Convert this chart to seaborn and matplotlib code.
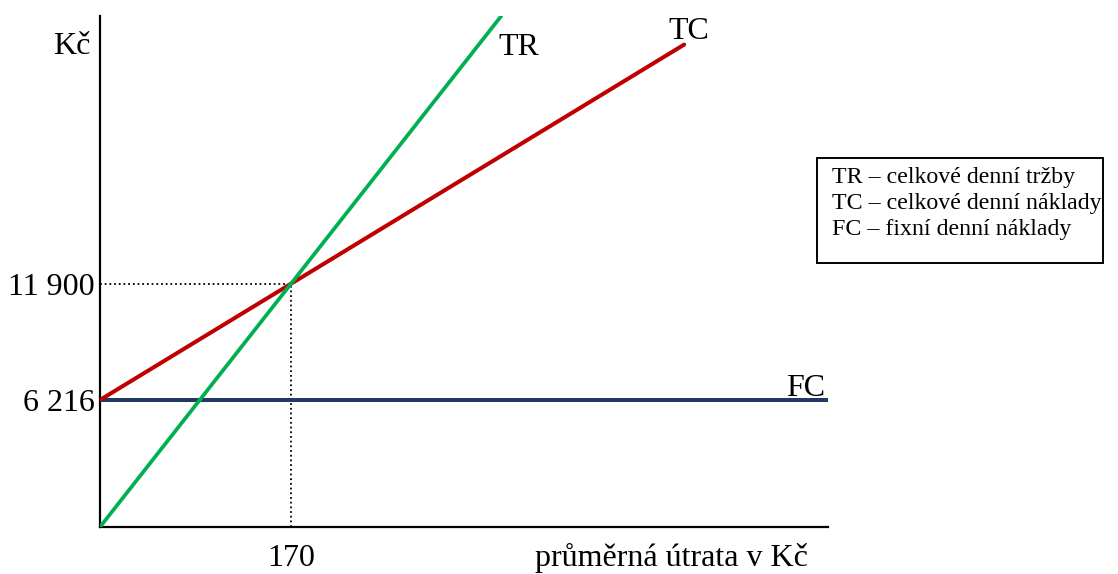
import matplotlib
matplotlib.use("Agg")
import matplotlib.pyplot as plt
import matplotlib.patches as mpatches
import pandas as pd
import seaborn as sns

# Break-even model: daily revenue and costs versus average spend per guest
fixed_cost = 6216          # FC – fixní denní náklady
breakeven_x = 170          # průměrná útrata v bodě zvratu
breakeven_y = 11900        # tržby = náklady v bodě zvratu

tr_x = [0, 170, 357]
tr_y = [0, 11900, 24990]
tc_x = [0, 170, 520]
tc_y = [6216, 11900, 23602]
fc_x = [0, 648]
fc_y = [6216, 6216]

y_ticks = [6216, 11900]
y_tick_labels = ["6 216", "11 900"]
x_ticks = [170]
x_tick_labels = ["170"]

legend_lines = [
    "TR – celkové denní tržby",
    "TC – celkové denní náklady",
    "FC – fixní denní náklady",
]

sns.set_style("white")
plt.rcParams["font.family"] = ["Liberation Serif", "DejaVu Serif"]
plt.rcParams["text.color"] = "black"
plt.rcParams["xtick.color"] = "black"
plt.rcParams["ytick.color"] = "black"

W, H = 1118, 574
fig = plt.figure(figsize=(W / 100, H / 100), dpi=100)
ax = fig.add_axes([100 / W, 1 - 527 / H, 728 / W, 511 / H])

GREEN = "#00B050"
RED = "#C00000"
BLUE = "#1F3B63"

df_tr = pd.DataFrame({"x": tr_x, "y": tr_y})
df_tc = pd.DataFrame({"x": tc_x, "y": tc_y})
df_fc = pd.DataFrame({"x": fc_x, "y": fc_y})

# dotted guides to the break-even point
ax.plot([0, breakeven_x], [breakeven_y, breakeven_y], color="black",
        lw=1.3, linestyle=(0, (1, 1.6)), zorder=1)
ax.plot([breakeven_x, breakeven_x], [0, breakeven_y], color="black",
        lw=1.3, linestyle=(0, (1, 1.6)), zorder=1)

sns.lineplot(data=df_fc, x="x", y="y", ax=ax, color=BLUE, lw=2.9,
             estimator=None, sort=False, zorder=2)
sns.lineplot(data=df_tc, x="x", y="y", ax=ax, color=RED, lw=2.9,
             estimator=None, sort=False, zorder=3)
sns.lineplot(data=df_tr, x="x", y="y", ax=ax, color=GREEN, lw=2.7,
             estimator=None, sort=False, zorder=4)

ax.set_xlim(0, 648)
ax.set_ylim(0, 25000)
ax.set_xlabel("")
ax.set_ylabel("")

for side in ("top", "right"):
    ax.spines[side].set_visible(False)
for side in ("left", "bottom"):
    ax.spines[side].set_color("black")
    ax.spines[side].set_linewidth(1.6)

FS = 23
ax.set_yticks(y_ticks)
ax.set_yticklabels(y_tick_labels, fontsize=FS, color="black")
ax.set_xticks(x_ticks)
ax.set_xticklabels(x_tick_labels, fontsize=FS, color="black")
ax.tick_params(axis="y", length=0, pad=4)
ax.tick_params(axis="x", length=0, pad=12)

# series labels at the line ends
ax.annotate("TR", xy=(tr_x[-1], tr_y[-1]), xytext=(-2, -28),
            textcoords="offset points", fontsize=FS, ha="left",
            va="baseline", annotation_clip=False, color="black")
ax.annotate("TC", xy=(tc_x[-1], tc_y[-1]), xytext=(-11, 4),
            textcoords="offset points", fontsize=FS, ha="left",
            va="baseline", annotation_clip=False, color="black")
ax.annotate("FC", xy=(fc_x[-1], fc_y[-1]), xytext=(-2, 3),
            textcoords="offset points", fontsize=FS, ha="right",
            va="baseline", annotation_clip=False, color="black")

# axis captions
fig.text(53 / W, 1 - 54 / H, "Kč", fontsize=FS, ha="left", va="baseline",
         color="black")
fig.text(535 / W, 1 - 566 / H, "průměrná útrata v Kč", fontsize=FS,
         ha="left", va="baseline", color="black")

# explanatory box
box = mpatches.Rectangle((817 / W, 1 - 263 / H), 286 / W, 105 / H,
                         transform=fig.transFigure, fill=False,
                         edgecolor="black", lw=1.4)
fig.add_artist(box)
for i, line in enumerate(legend_lines):
    fig.text(832 / W, 1 - (183 + 26 * i) / H, line, fontsize=17.2,
             ha="left", va="baseline", color="black")

fig.savefig("out.png", dpi=100)
